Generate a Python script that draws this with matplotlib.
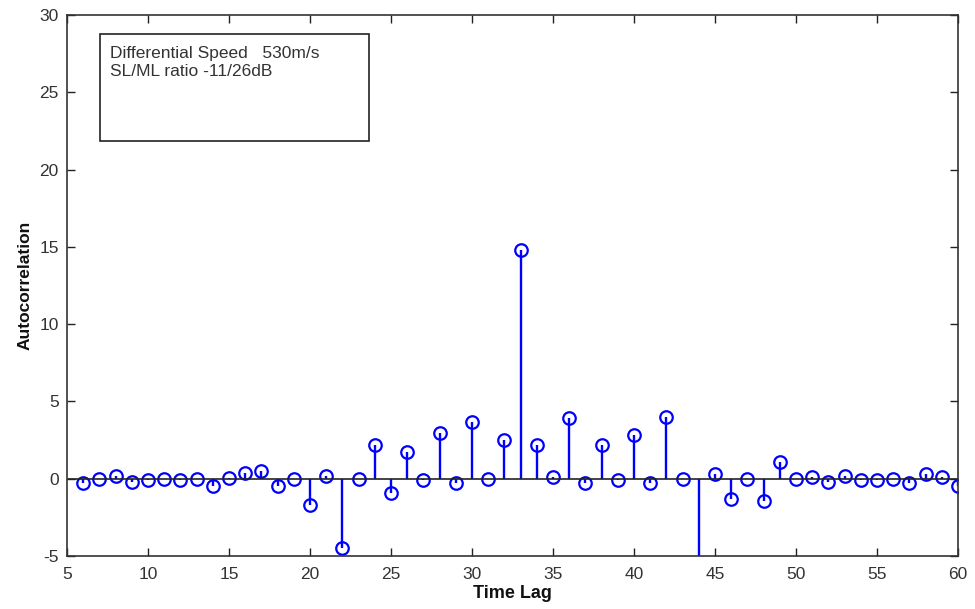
import matplotlib
matplotlib.use("Agg")
import matplotlib.pyplot as plt
from matplotlib.patches import Rectangle

plt.rcParams['font.family'] = ['Liberation Sans', 'DejaVu Sans']
plt.rcParams['axes.unicode_minus'] = False

lags = list(range(6, 61))
autocorr = [
    -0.3, 0.0, 0.2, -0.2, -0.1, 0.0, -0.1, 0.0, -0.5, 0.05,   # 6-15
    0.4, 0.5, -0.5, 0.0, -1.7, 0.2, -4.5, 0.0, 2.2, -0.95,    # 16-25
    1.75, -0.1, 2.95, -0.3, 3.7, 0.0, 2.5, 14.8, 2.2, 0.1,    # 26-35
    3.9, -0.3, 2.2, -0.1, 2.8, -0.3, 4.0, 0.0, -6.0, 0.3,     # 36-45
    -1.3, 0.0, -1.45, 1.05, 0.0, 0.1, -0.2, 0.2, -0.1, -0.1,  # 46-55
    0.0, -0.3, 0.3, 0.1, -0.5,                                 # 56-60
]
x_ticks = [5, 10, 15, 20, 25, 30, 35, 40, 45, 50, 55, 60]
y_ticks = [-5, 0, 5, 10, 15, 20, 25, 30]
info_lines = ["Differential Speed   530m/s", "SL/ML ratio -11/26dB"]

fig = plt.figure(figsize=(9.75, 6.09), dpi=100)
ax = fig.add_axes([0.0687, 0.087, 0.9139, 0.8884])

markerline, stemlines, baseline = ax.stem(lags, autocorr, basefmt='k-')
markerline.set_marker('o')
markerline.set_markerfacecolor('none')
markerline.set_markeredgecolor('#0000ff')
markerline.set_markersize(9)
markerline.set_markeredgewidth(1.6)
stemlines.set_color('#0000ff')
stemlines.set_linewidth(1.7)
baseline.set_color('#222222')
baseline.set_linewidth(1.2)
baseline.set_xdata([5, 60])

ax.set_xlim(5, 60)
ax.set_ylim(-5, 30)
ax.set_xticks(x_ticks)
ax.set_yticks(y_ticks)
ax.tick_params(direction='in', top=True, right=True, length=6, width=1,
               labelsize=12.5, colors='#222222', labelcolor='#333333', pad=6)
ax.tick_params(axis='x', pad=8)
for s in ax.spines.values():
    s.set_linewidth(1.2)
    s.set_color('#333333')

ax.set_xlabel("Time Lag", fontsize=13, fontweight='bold', labelpad=2, color='#111111')
ax.set_ylabel("Autocorrelation", fontsize=12.5, fontweight='bold', labelpad=5, color='#111111')

ax.add_patch(Rectangle((0.037, 0.767), 0.302, 0.198, transform=ax.transAxes,
                       fill=False, edgecolor='#222222', linewidth=1.2))
ax.text(0.048, 0.942, "\n".join(info_lines), transform=ax.transAxes,
        fontsize=12.5, va='top', ha='left', linespacing=1.25, color='#333333')

fig.savefig("out.png", dpi=100)
